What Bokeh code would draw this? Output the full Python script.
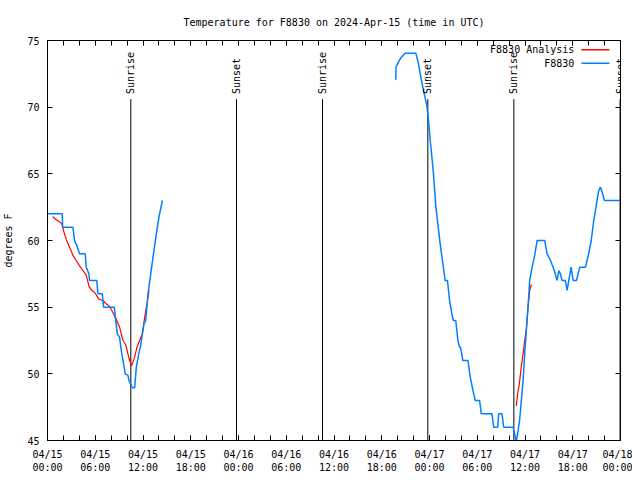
import math
from bokeh.plotting import figure
from bokeh.models import Range1d, FixedTicker, LinearAxis, Label
from bokeh.embed import file_html
from bokeh.resources import INLINE

# hours since 2024-04-15 00:00 UTC
obs1_hours = [0.0, 1.85, 1.9, 3.19, 3.4, 3.6, 4.03, 4.74, 4.87, 5.2, 5.29, 6.2, 6.33, 6.88, 7.05,
              8.39, 8.56, 8.77, 9.06, 9.27, 9.48, 9.78, 10.1, 10.24, 10.45, 10.66, 10.95, 11.16,
              11.46, 11.7, 11.92, 12.12, 12.34, 12.63, 12.97, 13.26, 13.68, 14.0, 14.44]
obs1_temp = [62.0, 62.0, 61.0, 61.0, 60.0, 59.75, 59.0, 59.0, 58.0, 57.5, 57.0, 57.0, 56.0, 56.0, 55.0,
             55.0, 54.1, 53.0, 52.75, 51.75, 51.0, 50.0, 49.9, 49.5, 49.25, 48.95, 48.95, 50.5,
             51.5, 52.1, 53.0, 53.75, 54.0, 56.0, 57.5, 58.75, 60.5, 61.75, 63.0]

obs2_hours = [43.76, 43.8, 44.1, 44.4, 44.94, 46.28, 46.6, 46.83, 47.25, 47.67, 47.88, 48.09, 48.3,
              48.5, 48.8, 49.0, 49.34, 49.68, 49.97, 50.26, 50.52, 50.81, 51.0, 51.3, 51.57, 51.77,
              51.9, 52.19, 52.83, 53.12, 53.46, 53.75, 54.3, 54.5, 55.85, 56.06, 56.56, 56.7, 57.11,
              57.32, 58.5, 58.7, 58.9, 59.07, 59.32, 59.54, 59.76, 59.96, 60.17, 60.38, 60.59, 60.89,
              61.18, 61.52, 62.48, 62.78, 63.2, 63.5, 63.8, 64.03, 64.24, 64.45, 64.66, 65.08, 65.29,
              65.5, 65.8, 66.05, 66.47, 66.88, 67.6, 68.0, 68.32, 68.64, 68.98, 69.27, 69.49, 69.7,
              69.99, 72.0]
obs2_temp = [72.05, 73.0, 73.4, 73.7, 74.05, 74.05, 73.3, 72.5, 71.25, 70.1, 69.0, 67.5, 66.25,
             65.0, 62.5, 61.5, 59.75, 58.25, 57.0, 57.0, 55.5, 54.5, 54.0, 54.0, 52.5, 52.0,
             52.0, 51.0, 51.0, 49.75, 48.75, 48.0, 48.0, 47.0, 47.0, 46.0, 46.0, 47.0, 47.0,
             46.0, 46.0, 45.5, 44.9, 45.5, 46.5, 48.0, 49.5, 51.5, 53.25, 55.0, 57.0, 58.0,
             58.75, 60.0, 60.0, 59.0, 58.5, 58.05, 57.5, 57.0, 57.75, 57.5, 57.0, 57.0, 56.25,
             57.0, 58.0, 57.0, 57.0, 58.0, 58.0, 59.0, 60.0, 61.5, 62.75, 63.75, 64.0, 63.6,
             63.0, 63.0]

ana1_hours = [0.67, 1.09, 1.51, 1.8, 2.01, 2.35, 2.77, 3.19, 3.6, 4.03, 4.45, 4.87, 5.2, 5.5, 5.92,
              6.46, 6.96, 7.39, 7.8, 8.22, 8.64, 9.06, 9.48, 9.82, 10.1, 10.32, 10.57, 10.95, 11.24,
              11.58, 11.92, 12.21, 12.5, 12.76]
ana1_temp = [61.8, 61.55, 61.4, 61.25, 60.75, 60.1, 59.5, 58.9, 58.5, 58.1, 57.75, 57.4, 56.6, 56.3, 56.1,
             55.6, 55.5, 55.25, 55.05, 54.6, 54.1, 53.5, 52.5, 52.2, 51.5, 51.0, 50.6, 51.25, 52.0,
             52.5, 53.0, 54.25, 55.25, 56.25]
ana2_hours = [58.9, 59.07, 59.29, 59.5, 59.76, 59.96, 60.17, 60.38, 60.59, 60.8]
ana2_temp = [47.6, 48.5, 49.25, 50.4, 51.5, 52.5, 53.4, 55.0, 56.25, 56.7]

sun_hours = [10.47, 23.75, 34.56, 47.79, 58.6, 71.95]
sun_names = ["Sunrise", "Sunset", "Sunrise", "Sunset", "Sunrise", "Sunset"]

tick_hours = [0, 6, 12, 18, 24, 30, 36, 42, 48, 54, 60, 66, 72]
tick_labels = ["04/15\n00:00", "04/15\n06:00", "04/15\n12:00", "04/15\n18:00",
               "04/16\n00:00", "04/16\n06:00", "04/16\n12:00", "04/16\n18:00",
               "04/17\n00:00", "04/17\n06:00", "04/17\n12:00", "04/17\n18:00",
               "04/18\n00:00"]
minor_hours = list(range(0, 73, 2))
y_ticks = [45, 50, 55, 60, 65, 70, 75]

series_names = ["F8830 Analysis", "F8830"]
series_colors = ["#ff0000", "#0080ff"]

FONT = "DejaVu Sans Mono"
FS = "10px"

p = figure(frame_width=573, frame_height=400,
           x_range=Range1d(0, 72), y_range=Range1d(45, 75),
           output_backend="svg", toolbar_location=None,
           min_border_left=39, min_border_right=12, min_border_top=40, min_border_bottom=30,
           title="Temperature for F8830 on 2024-Apr-15 (time in UTC)")
p.title.text_font = FONT
p.title.text_font_size = FS
p.title.text_font_style = "normal"
p.title.text_color = "black"
p.title.align = "center"
p.title.standoff = 25
p.xgrid.visible = False
p.ygrid.visible = False
p.outline_line_color = "black"
p.outline_line_alpha = 1.0
p.outline_line_width = 1
p.background_fill_color = "white"
p.border_fill_color = "white"


def style(ax):
    ax.axis_line_color = "black"
    ax.major_tick_line_color = "black"
    ax.minor_tick_line_color = "black"
    ax.major_tick_in = 5
    ax.major_tick_out = 0
    ax.minor_tick_in = 5
    ax.minor_tick_out = 0


xa = p.xaxis[0]
xa.ticker = FixedTicker(ticks=tick_hours, minor_ticks=minor_hours)
style(xa)
xa.major_label_overrides = {h: l for h, l in zip(tick_hours, tick_labels)}
xa.major_label_text_font = FONT
xa.major_label_text_font_size = FS
xa.major_label_text_line_height = 1.25
xa.major_label_text_color = "black"
xa.major_label_standoff = 8

ya = p.yaxis[0]
ya.ticker = FixedTicker(ticks=y_ticks, minor_ticks=[])
style(ya)
ya.major_label_text_font = FONT
ya.major_label_text_font_size = FS
ya.major_label_text_color = "black"
ya.major_label_standoff = 8
ya.axis_label = "degrees F"
ya.axis_label_text_font = FONT
ya.axis_label_text_font_size = FS
ya.axis_label_text_font_style = "normal"
ya.axis_label_text_color = "black"
ya.axis_label_standoff = 10

# mirrored tick marks (no labels) on top and right
top = LinearAxis(ticker=FixedTicker(ticks=tick_hours, minor_ticks=minor_hours))
style(top)
top.major_label_overrides = {h: "" for h in tick_hours}
top.major_label_standoff = 0
p.add_layout(top, "above")

right = LinearAxis(ticker=FixedTicker(ticks=y_ticks, minor_ticks=[]))
style(right)
right.major_label_overrides = {v: "" for v in y_ticks}
right.major_label_standoff = 0
p.add_layout(right, "right")

# sunrise / sunset markers
p.segment(x0=sun_hours, y0=[45] * len(sun_hours), x1=sun_hours, y1=[70.6] * len(sun_hours),
          line_color="black", line_width=1)
for h, name in zip(sun_hours, sun_names):
    p.add_layout(Label(x=h, y=70.98, text=name, angle=math.pi / 2,
                       text_align="left", text_baseline="middle",
                       text_font=FONT, text_font_size=FS, text_color="black"))

# data
p.line(ana1_hours, ana1_temp, line_color=series_colors[0], line_width=1.2)
p.line(ana2_hours, ana2_temp, line_color=series_colors[0], line_width=1.2)
p.line(obs1_hours, obs1_temp, line_color=series_colors[1], line_width=1.5)
p.line(obs2_hours, obs2_temp, line_color=series_colors[1], line_width=1.5)

# legend (gnuplot style: text then sample line)
leg_text_x = 66.2
leg_x0, leg_x1 = 67.1, 70.6
leg_rows = [74.3, 73.3]
for name, color, yy in zip(series_names, series_colors, leg_rows):
    p.add_layout(Label(x=leg_text_x, y=yy, text=name, text_align="right", text_baseline="middle",
                       text_font=FONT, text_font_size=FS, text_color="black"))
    p.segment(x0=[leg_x0], y0=[yy], x1=[leg_x1], y1=[yy], line_color=color, line_width=1.5)

open("out.html", "w").write(file_html(p, INLINE))
